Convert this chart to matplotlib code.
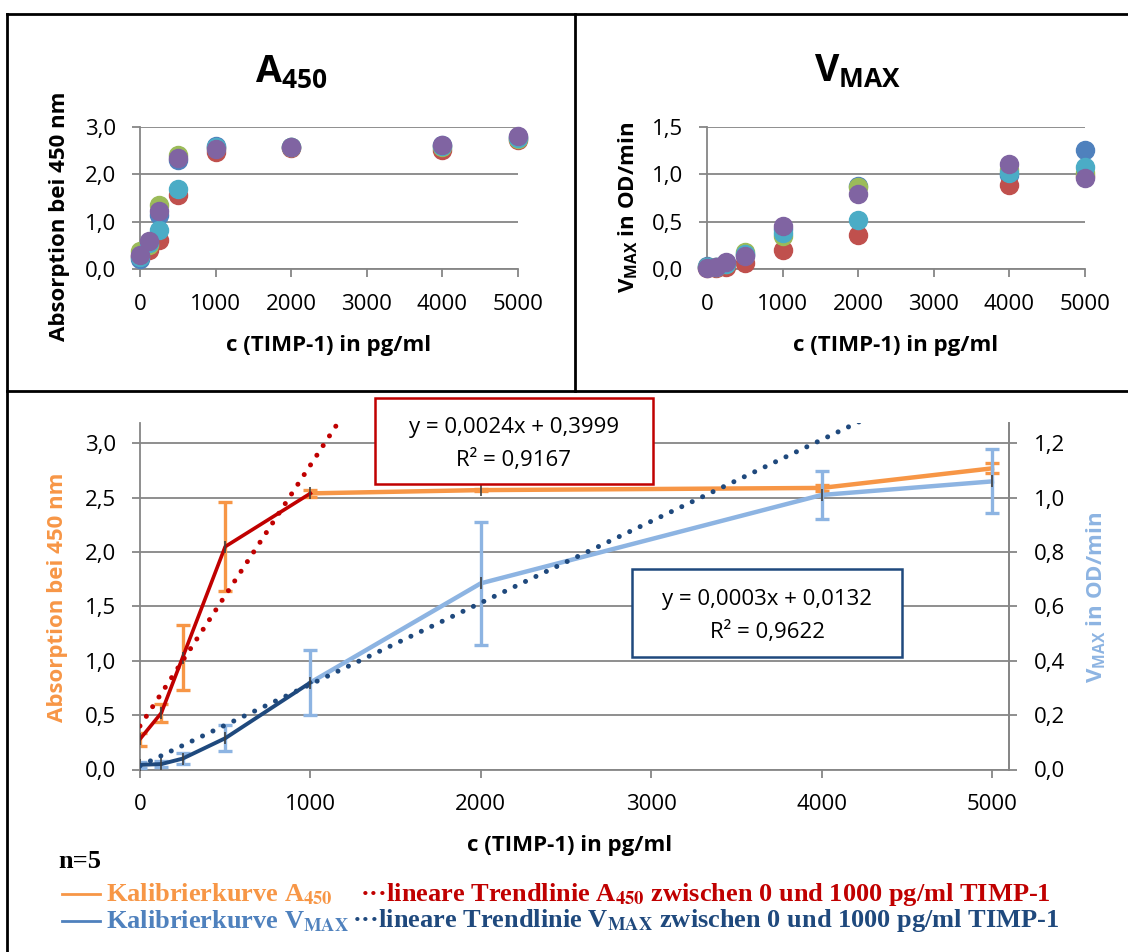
import matplotlib
matplotlib.use('Agg')
import matplotlib.pyplot as plt
from matplotlib.lines import Line2D
from matplotlib.patches import Rectangle

plt.rcParams['font.family'] = ['Open Sans', 'DejaVu Sans']
plt.rcParams['mathtext.fontset'] = 'custom'
plt.rcParams['mathtext.rm'] = 'Open Sans'
plt.rcParams['mathtext.bf'] = 'Open Sans:bold'
plt.rcParams['mathtext.it'] = 'Open Sans:italic'

# TIMP-1 standard concentrations (pg/ml)
conc = [0, 125, 250, 500, 1000, 2000, 4000, 5000]

# A450 of the five replicate runs
a450_blue = [0.22, 0.55, 1.15, 2.30, 2.59, 2.58, 2.63, 2.78]
a450_red = [0.28, 0.41, 0.62, 1.57, 2.47, 2.56, 2.51, 2.72]
a450_green = [0.38, 0.50, 1.35, 2.40, 2.55, 2.57, 2.58, 2.74]
a450_purple = [0.30, 0.59, 1.22, 2.34, 2.54, 2.57, 2.61, 2.80]
a450_cyan = [0.25, 0.55, 0.82, 1.68, 2.58, 2.58, 2.60, 2.76]

# Vmax of the five replicate runs (OD/min)
vmax_blue = [0.03, 0.02, 0.06, 0.15, 0.42, 0.88, 0.99, 1.26]
vmax_red = [0.01, 0.01, 0.02, 0.06, 0.20, 0.36, 0.89, 0.98]
vmax_green = [0.02, 0.02, 0.05, 0.18, 0.35, 0.87, 1.05, 1.01]
vmax_purple = [0.01, 0.02, 0.07, 0.14, 0.45, 0.79, 1.11, 0.96]
vmax_cyan = [0.02, 0.02, 0.05, 0.16, 0.38, 0.52, 1.01, 1.08]

# means and standard deviations (n=5)
a450_mean = [0.28, 0.52, 1.03, 2.05, 2.54, 2.57, 2.59, 2.77]
a450_sd = [0.06, 0.08, 0.30, 0.41, 0.03, 0.01, 0.03, 0.045]
vmax_mean = [0.017, 0.02, 0.04, 0.115, 0.32, 0.685, 1.01, 1.06]
vmax_sd = [0.01, 0.01, 0.02, 0.047, 0.12, 0.227, 0.09, 0.118]

# linear fits between 0 and 1000 pg/ml
a450_slope, a450_icpt, a450_r2 = 0.0024, 0.3999, 0.9167
vmax_slope, vmax_icpt, vmax_r2 = 0.0003, 0.0132, 0.9622

xticks = [0, 1000, 2000, 3000, 4000, 5000]
a450_ticks_top = [0.0, 1.0, 2.0, 3.0]
vmax_ticks_top = [0.0, 0.5, 1.0, 1.5]
a450_ticks = [0.0, 0.5, 1.0, 1.5, 2.0, 2.5, 3.0]
vmax_ticks = [0.0, 0.2, 0.4, 0.6, 0.8, 1.0, 1.2]

W, H = 1128, 952
fig = plt.figure(figsize=(W / 100, H / 100), dpi=100)

GRID = '#868686'
ORANGE = '#F79646'
RED = '#C00000'
LIGHTBLUE = '#8DB4E2'
NAVY = '#1F497D'
rep_colors = {'blue': '#4F81BD', 'red': '#C0504D', 'green': '#9BBB59',
              'cyan': '#4BACC6', 'purple': '#8064A2'}

TICK_FS = 16
LABEL_FS = 16


def fx(px):
    return px / W


def fy(py):
    return 1 - py / H


def axes_px(left, top, right, bottom):
    return fig.add_axes([fx(left), fy(bottom), (right - left) / W, (bottom - top) / H])


def comma(v, fmt='{:.1f}'):
    return fmt.format(v).replace('.', ',')


def style_axes(ax, spines=('left', 'bottom')):
    for side in ['left', 'right', 'top', 'bottom']:
        ax.spines[side].set_visible(side in spines)
        ax.spines[side].set_color(GRID)
        ax.spines[side].set_linewidth(1.3)
    ax.tick_params(colors=GRID, labelcolor='black', labelsize=TICK_FS, length=6, width=1.3)
    ax.tick_params(axis='x', pad=12)
    ax.tick_params(axis='y', pad=11)
    ax.set_facecolor('none')


def eq_box(left, top, right, bottom, lines, color):
    fig.add_artist(Rectangle((fx(left), fy(bottom)), (right - left) / W, (bottom - top) / H,
                             transform=fig.transFigure, fc='white', ec=color, lw=1.8, zorder=6))
    cx = (left + right) / 2
    mid = (top + bottom) / 2
    fig.text(fx(cx), fy(mid - 14), lines[0], fontsize=16, ha='center', va='center', zorder=7)
    fig.text(fx(cx), fy(mid + 19), lines[1], fontsize=16, ha='center', va='center', zorder=7)


# panel frame
for (x0, y0, x1, y1) in [(7, 14, 1128, 14), (7, 14, 7, 952), (7, 391, 1128, 391), (575, 14, 575, 391)]:
    fig.add_artist(Line2D([fx(x0), fx(x1)], [fy(y0), fy(y1)], color='black', lw=2))

# top left: A450 replicates
ax1 = axes_px(140, 127, 518, 269)
style_axes(ax1)
ax1.set_xlim(0, 5000)
ax1.set_ylim(0, 3.0)
ax1.set_yticks(a450_ticks_top)
ax1.set_yticklabels([comma(v) for v in a450_ticks_top])
ax1.set_xticks(xticks)
ax1.grid(axis='y', color=GRID, lw=1.3)
ax1.set_axisbelow(True)
for name, vals in [('blue', a450_blue), ('red', a450_red), ('green', a450_green),
                   ('cyan', a450_cyan), ('purple', a450_purple)]:
    ax1.plot(conc, vals, 'o', ms=13, color=rep_colors[name], clip_on=False, zorder=3)
fig.text(fx(291), fy(73), r'$\mathbf{A_{450}}$', fontsize=27, ha='center', va='center')
fig.text(fx(60), fy(216), 'Absorption bei 450 nm', rotation=90, fontsize=LABEL_FS,
         fontweight='bold', ha='center', va='center')
fig.text(fx(329), fy(345), 'c (TIMP-1) in pg/ml', fontsize=LABEL_FS, fontweight='bold',
         ha='center', va='center')

# top right: Vmax replicates
ax2 = axes_px(707, 127, 1085, 269)
style_axes(ax2)
ax2.set_xlim(0, 5000)
ax2.set_ylim(0, 1.5)
ax2.set_yticks(vmax_ticks_top)
ax2.set_yticklabels([comma(v) for v in vmax_ticks_top])
ax2.set_xticks(xticks)
ax2.grid(axis='y', color=GRID, lw=1.3)
ax2.set_axisbelow(True)
for name, vals in [('blue', vmax_blue), ('red', vmax_red), ('green', vmax_green),
                   ('cyan', vmax_cyan), ('purple', vmax_purple)]:
    ax2.plot(conc, vals, 'o', ms=13, color=rep_colors[name], clip_on=False, zorder=3)
fig.text(fx(858), fy(72), r'$\mathbf{V_{MAX}}$', fontsize=27, ha='center', va='center')
fig.text(fx(628), fy(207), r'V$_{\mathbf{MAX}}$ in OD/min', rotation=90, fontsize=LABEL_FS,
         fontweight='bold', ha='center', va='center')
fig.text(fx(896), fy(345), 'c (TIMP-1) in pg/ml', fontsize=LABEL_FS, fontweight='bold',
         ha='center', va='center')

# bottom: calibration curves with trend lines
ax3 = axes_px(140, 422.7, 1009, 769.5)
style_axes(ax3, spines=('left', 'bottom', 'right'))
ax3.set_xlim(0, 5100)
ax3.set_ylim(0, 3.19)
ax3.set_xticks(xticks)
ax3.set_yticks(a450_ticks)
ax3.set_yticklabels([comma(v) for v in a450_ticks])
ax3.grid(axis='y', color=GRID, lw=1.3)
ax3.set_axisbelow(True)

ax4 = ax3.twinx()
style_axes(ax4, spines=('right',))
ax4.tick_params(axis='y', pad=12)
ax4.set_ylim(0, 1.276)
ax4.set_yticks(vmax_ticks)
ax4.set_yticklabels([comma(v) for v in vmax_ticks])

split = conc.index(1000)
fit_x = [0, 5100]
dotted = (0, (0.01, 2.3))

# A450 curve: error bars, orange above 1000, red up to 1000
ax3.errorbar(conc, a450_mean, yerr=a450_sd, fmt='none', ecolor=ORANGE,
             elinewidth=2.4, capsize=5, capthick=2.4, zorder=2)
ax3.plot(conc[split:], a450_mean[split:], color=ORANGE, lw=3.2, zorder=3)
ax3.plot(conc[:split + 1], a450_mean[:split + 1], color=RED, lw=2.6, zorder=4)
ax3.plot(conc, a450_mean, '|', color='#404040', ms=9, mew=1.2, zorder=5)
ax3.plot(fit_x, [a450_slope * x + a450_icpt for x in fit_x], color=RED, lw=3.6,
         linestyle=dotted, dash_capstyle='round', zorder=5)

# Vmax curve on the secondary axis
ax4.errorbar(conc, vmax_mean, yerr=vmax_sd, fmt='none', ecolor=LIGHTBLUE,
             elinewidth=2.4, capsize=5, capthick=2.4, zorder=2)
ax4.plot(conc[split:], vmax_mean[split:], color=LIGHTBLUE, lw=3.2, zorder=3)
ax4.plot(conc[:split + 1], vmax_mean[:split + 1], color=NAVY, lw=2.8, zorder=4)
ax4.plot(conc, vmax_mean, '|', color='#404040', ms=9, mew=1.2, zorder=5)
ax4.plot(fit_x, [vmax_slope * x + vmax_icpt for x in fit_x], color=NAVY, lw=3.6,
         linestyle=dotted, dash_capstyle='round', zorder=5)

# equation boxes
eq_box(375, 398, 653, 484,
       ['y = {}x + {}'.format(comma(a450_slope, '{:.4f}'), comma(a450_icpt, '{:.4f}')),
        'R² = {}'.format(comma(a450_r2, '{:.4f}'))], RED)
eq_box(632, 569, 902, 657,
       ['y = {}x + {}'.format(comma(vmax_slope, '{:.4f}'), comma(vmax_icpt, '{:.4f}')),
        'R² = {}'.format(comma(vmax_r2, '{:.4f}'))], NAVY)

fig.text(fx(58), fy(597), 'Absorption bei 450 nm', rotation=90, fontsize=LABEL_FS,
         fontweight='bold', color=ORANGE, ha='center', va='center')
fig.text(fx(1096), fy(597), r'V$_{\mathbf{MAX}}$ in OD/min', rotation=90, fontsize=LABEL_FS,
         fontweight='bold', color=LIGHTBLUE, ha='center', va='center')
fig.text(fx(570), fy(845), 'c (TIMP-1) in pg/ml', fontsize=LABEL_FS, fontweight='bold',
         ha='center', va='center')

# legend block
serif = dict(family=['Liberation Serif', 'DejaVu Serif'], fontweight='bold',
             math_fontfamily='stix', va='center', fontsize=19)
fig.text(fx(58), fy(861), 'n=5', color='black', **serif)
fig.add_artist(Line2D([fx(62), fx(100)], [fy(894), fy(894)], color=ORANGE, lw=2))
fig.text(fx(106), fy(894), r'Kalibrierkurve A$_{\mathbf{450}}$', color=ORANGE, **serif)
fig.text(fx(360), fy(894), '\u00b7\u00b7\u00b7lineare Trendlinie A$_{\\mathbf{450}}$ zwischen 0 und 1000 pg/ml TIMP-1',
         color=RED, **serif)
fig.add_artist(Line2D([fx(62), fx(100)], [fy(921), fy(921)], color='#4F81BD', lw=2))
fig.text(fx(106), fy(921), r'Kalibrierkurve V$_{\mathbf{MAX}}$', color='#4F81BD', **serif)
fig.text(fx(352), fy(921), '\u00b7\u00b7\u00b7lineare Trendlinie V$_{\\mathbf{MAX}}$ zwischen 0 und 1000 pg/ml TIMP-1',
         color=NAVY, **serif)

fig.savefig('out.png', dpi=100)
